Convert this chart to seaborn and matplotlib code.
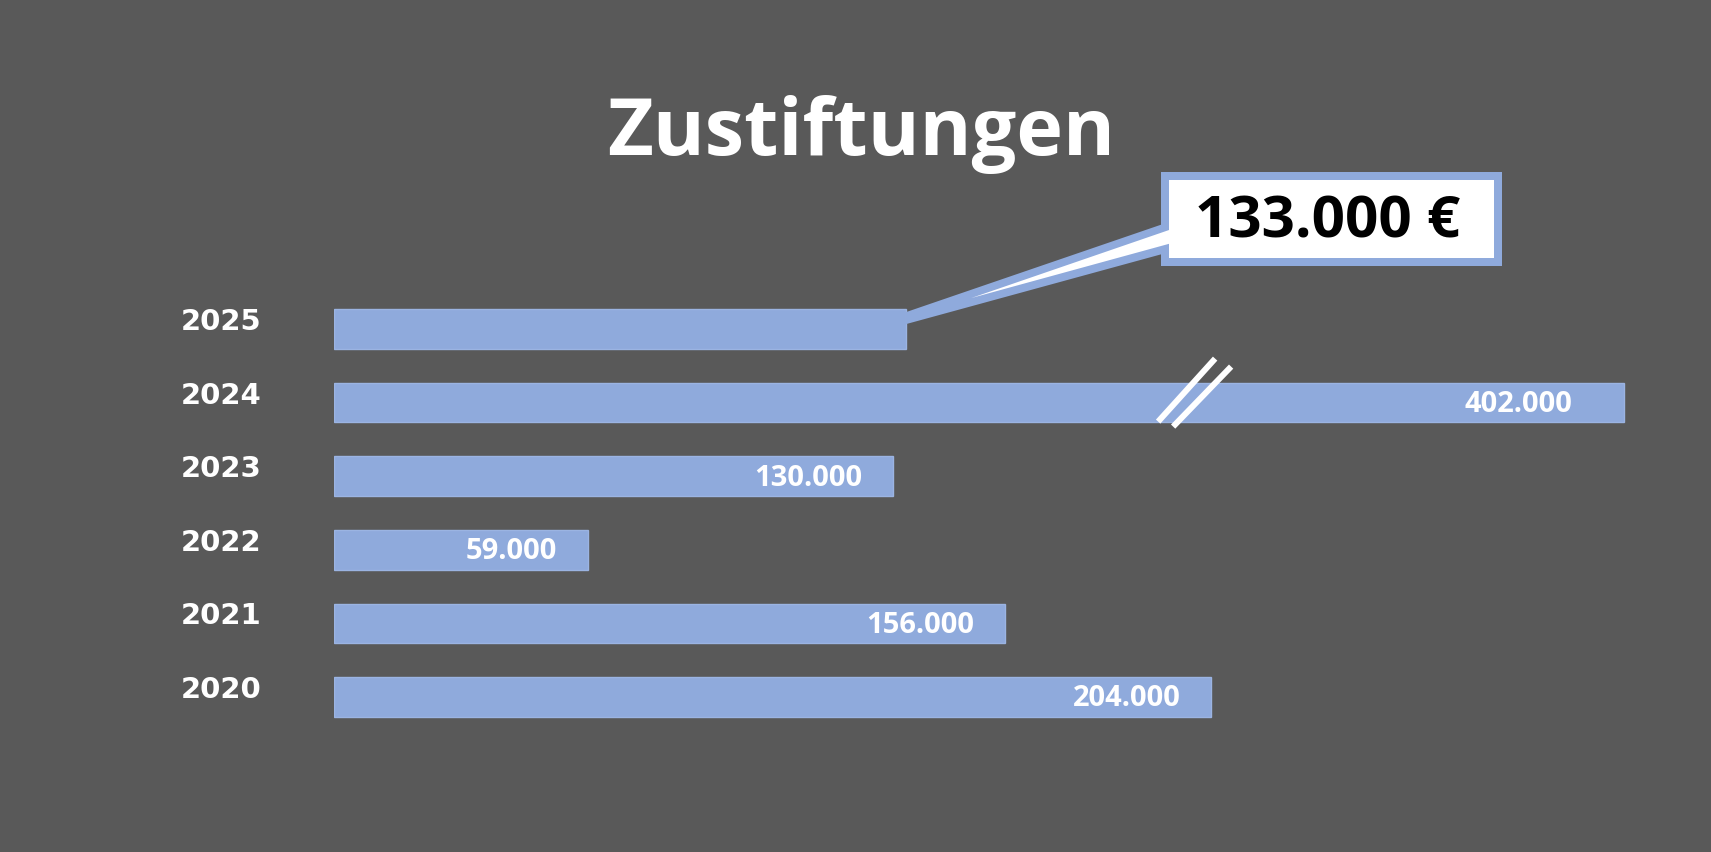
import numpy as np
import pandas as pd
import matplotlib
matplotlib.use("Agg")
import matplotlib.pyplot as plt
import seaborn as sns
from matplotlib.transforms import Affine2D
from matplotlib.patches import Rectangle, Polygon
from matplotlib.lines import Line2D

# ---------------- data ----------------
years = ["2020", "2021", "2022", "2023", "2024", "2025"]
values = [204000, 156000, 59000, 130000, 402000, 133000]
highlight_year = "2025"
highlight_label = "133.000 €"
title = "Zustiftungen"
axis_break_at = 300000      # bars longer than this are drawn cut (axis break)
break_mark_value = 200000   # where the break marks are drawn

# ---------------- style ----------------
W, H, DPI = 1711, 852, 100
BG = "#595959"
BAR = "#8FAADC"
WHITE = "#FFFFFF"

sns.set_theme(style="white")
plt.rcParams["font.family"] = ["Open Sans", "DejaVu Sans"]

fig = plt.figure(figsize=(W / DPI, H / DPI), dpi=DPI, facecolor=BG)
# pixel (top-left origin) transform for annotation layout
px = Affine2D().scale(1 / W, -1 / H).translate(0, 1) + fig.transFigure

ax_left, ax_right, ax_top, ax_bottom = 334, 1650, 292.2, 733.8
ax = fig.add_axes([ax_left / W, 1 - ax_bottom / H, (ax_right - ax_left) / W, (ax_bottom - ax_top) / H])
ax.set_facecolor(BG)

order = years[::-1]
df = pd.DataFrame({"year": years, "value": values})
df["shown"] = np.minimum(df["value"], axis_break_at)

sns.barplot(data=df, x="shown", y="year", order=order, orient="h", color=BAR,
            saturation=1, width=0.54, edgecolor="#9BB4E2", linewidth=1.0, ax=ax)

ax.set_xlim(0, 306000)
ax.set_ylim(len(order) - 0.5, -0.5)
for s in ax.spines.values():
    s.set_visible(False)
ax.set_xticks([])
ax.set_xlabel("")
ax.set_ylabel("")
ax.tick_params(axis="y", length=0, labelleft=False)

# year labels (category axis labels), left aligned
for i, yr in enumerate(order):
    _, yd = ax.transData.transform((0, i))
    fig.text(181, yd + 7, yr, transform=None, ha="left", va="center",
             color=WHITE, fontsize=21, fontweight="bold", family=["DejaVu Sans"])

# value labels inside bar ends
for i, yr in enumerate(order):
    row = df[df["year"] == yr].iloc[0]
    if yr == highlight_year:
        continue
    xd, yd = ax.transData.transform((row["shown"], i))
    pad = 52 if row["value"] > axis_break_at else 31
    txt = f"{row['value']:,.0f}".replace(",", ".")
    fig.text(xd - pad, yd - 2, txt, transform=None, ha="right", va="center",
             color=WHITE, fontsize=21, fontweight="bold")

# axis-break marks on the cut bar
for i, yr in enumerate(order):
    row = df[df["year"] == yr].iloc[0]
    if row["value"] > axis_break_at:
        bx, by = ax.transData.transform((break_mark_value, i))
        by = H - by
        for (x0, y0, x1, y1) in [(-36, 19, 21, -44), (-21, 24, 37, -36)]:
            fig.add_artist(Line2D([bx + x0, bx + x1], [by + y0, by + y1], transform=px,
                                  color=WHITE, lw=4.3, solid_capstyle="butt"))

# title
fig.text(861 / W, 1 - 155 / H, title, ha="center", va="baseline", color=WHITE,
         fontsize=57, fontweight="bold")

# callout for highlighted bar
hi = order.index(highlight_year)
hrow = df[df["year"] == highlight_year].iloc[0]
ex, ey_top = ax.transData.transform((hrow["shown"], hi - 0.27))
ey_top = H - ey_top
bx0, by0, bx1, by1 = 1161, 172, 1502, 266
bw = 8
fig.add_artist(Rectangle((bx0, by1), bx1 - bx0, by0 - by1, transform=px, color=BAR, lw=0))
fig.add_artist(Rectangle((bx0 + bw, by1 - bw), bx1 - bx0 - 2 * bw, by0 - by1 + 2 * bw,
                         transform=px, color=WHITE, lw=0))
fig.add_artist(Polygon([(ex, ey_top + 3), (bx0 + 5, 223), (bx0 + 5, 253), (ex, ey_top + 15)],
                       closed=True, transform=px, color=BAR, lw=0))
fig.add_artist(Polygon([(ex + 65, ey_top - 11), (bx0 + bw + 3, 229), (bx0 + bw + 3, 243)],
                       closed=True, transform=px, color=WHITE, lw=0))
fig.text(1328 / W, 1 - 238 / H, highlight_label, ha="center", va="baseline",
         color="black", fontsize=42, fontweight="bold")

fig.savefig("out.png", dpi=DPI, facecolor=BG)
